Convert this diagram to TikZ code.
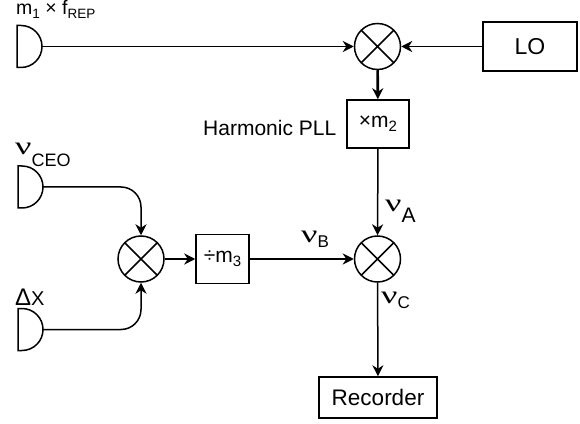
\documentclass[tikz,border=0pt]{standalone}
\usepackage{fontspec}
\setmainfont{Liberation Sans}
\newfontfamily\serifnu{Liberation Serif}
\usepackage{graphicx}
\usetikzlibrary{arrows.meta,calc}
\newcommand{\fs}[1]{\fontsize{#1}{#1}\selectfont}
\newcommand{\nuglyph}{{\serifnu\fs{25}\scalebox{1.45}[1]{ν}}}
\newcommand{\nulab}[3]{\nuglyph\raisebox{-#2pt}{\fs{#3}#1}}
\tikzset{
  thinline/.style={line width=1.5pt},
  thickline/.style={line width=2.6pt},
  tip/.style={-{Stealth[length=11pt,width=11pt,inset=3.5pt]}},
  blockbox/.style={draw, line width=1.5pt, inner sep=0pt},
  mixer/.style={circle, draw, line width=1.5pt, minimum size=46pt, inner sep=0pt,
    path picture={\draw[line width=1.5pt]
      (path picture bounding box.north west) -- (path picture bounding box.south east)
      (path picture bounding box.north east) -- (path picture bounding box.south west);}},
  photodiode/.pic={\draw[line width=1.5pt] (-25,21) -- (-21,21)
      arc[start angle=90,end angle=-90,x radius=21,y radius=21] -- (-25,-21) -- cycle;},
  lab/.style={anchor=base west, inner sep=0pt}
}
\begin{document}
\begin{tikzpicture}[x=1pt,y=1pt]
\useasboundingbox (0,0) rectangle (580,423);
% nodes
\node[mixer] (mx1) at (377.5,376.5) {};
\node[blockbox, minimum width=94pt, minimum height=49pt] (lo) at (530,376.5) {\fs{23}LO};
\node[blockbox, minimum width=62pt, minimum height=48pt] (m2) at (378,299) {\fs{21}×m\raisebox{-4pt}{\fs{15}2}};
\node[mixer] (mx3) at (377.5,164) {};
\node[blockbox, minimum width=118pt, minimum height=41pt] (rec) at (378,25.5) {\fs{22.5}Recorder};
\node[mixer] (mx2) at (141,164) {};
\node[blockbox, minimum width=53pt, minimum height=49pt] (m3) at (222.5,164) {\fs{21}÷m\raisebox{-4pt}{\fs{15}3}};
% photodiodes
\coordinate (pd1) at (42,376.5);
\coordinate (pd2) at (43,236);
\coordinate (pd3) at (43,93.5);
\pic at (pd1) {photodiode};
\pic at (pd2) {photodiode};
\pic at (pd3) {photodiode};
% connectors
\draw[thinline,tip] (pd1) -- (mx1);
\draw[thinline,tip] (lo) -- (mx1);
\draw[thickline,tip] (mx1) -- (m2);
\draw[thinline,tip] (m2) -- (mx3);
\draw[thinline,tip,rounded corners=20pt] (pd2) -| (mx2);
\draw[thinline,tip,rounded corners=20pt] (pd3) -| (mx2);
\draw[thickline,tip] (mx2) -- (m3);
\draw[thickline,tip] (m3) -- (mx3);
\draw[thinline,tip] (mx3) -- (rec);
% labels
\node[lab] (lab1) at (16,408) {\fs{19.5}m\raisebox{-3.5pt}{\fs{13.5}1} × f\raisebox{-3.5pt}{\fs{13.5}REP}};
\node[lab] (hpll) at (203,287) {\fs{21}Harmonic PLL};
\node[lab] (nuceo) at (15,268) {\nulab{CEO}{12}{18}};
\node[lab] (dx) at (15,118) {\fs{24}Δ\fs{20}X};
\node[lab] (nua) at (385,211) {\nulab{A}{11}{21}};
\node[lab] (nub) at (301,180) {\nulab{B}{5}{17}};
\node[lab] (nuc) at (381,120) {\nulab{C}{5}{17}};
\end{tikzpicture}
\end{document}
